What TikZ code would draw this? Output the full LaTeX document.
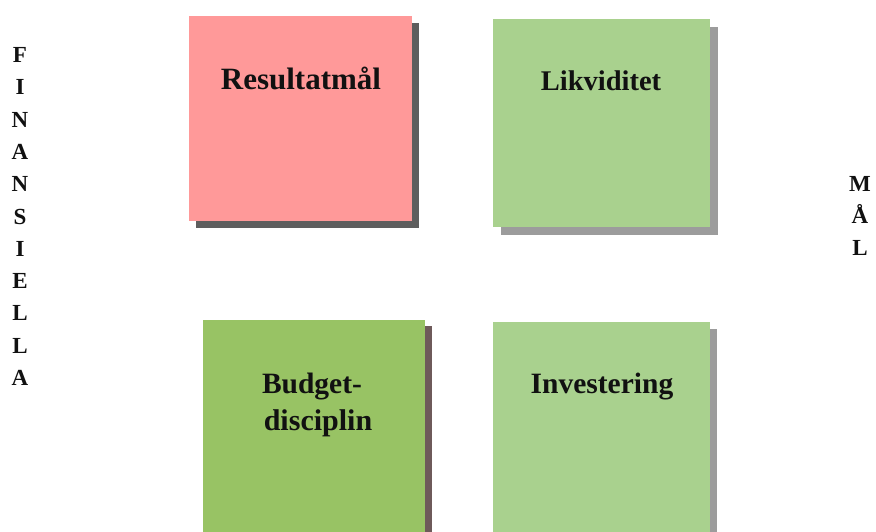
\documentclass[tikz,border=0pt]{standalone}
\usepackage{fontspec}
\setmainfont{Liberation Serif}
\usetikzlibrary{shadows}
\definecolor{pinkbox}{HTML}{FF9999}
\definecolor{lightgreen}{HTML}{A9D18E}
\definecolor{midgreen}{HTML}{98C364}
\definecolor{darkshadow}{HTML}{5E5E5E}
\definecolor{lightshadow}{HTML}{9C9C9C}
\definecolor{redshadow}{HTML}{6E5A5A}
\definecolor{txt}{HTML}{111111}
\tikzset{
  card/.style={rectangle, inner sep=0pt, anchor=north west, draw=none},
  cardtext/.style={anchor=base, font=\bfseries\fontsize{#1}{#1}\selectfont, text=txt, inner sep=0pt},
  sideword/.style={align=center, font=\bfseries\fontsize{23}{32.3}\selectfont, text=txt, inner sep=0pt}
}
\begin{document}
\begin{tikzpicture}[x=1pt,y=-1pt]
\useasboundingbox[fill=white] (0,0) rectangle (876,531);
% shadows
\fill[darkshadow] (196,23) rectangle (419,228);
\fill[lightshadow] (501,27) rectangle (718,235);
\fill[redshadow] (210,326) rectangle (432,540);
\fill[lightshadow] (500,329) rectangle (717,540);
% boxes
\node[card, fill=pinkbox, minimum width=223pt, minimum height=205pt] (res) at (189,16) {};
\node[card, fill=lightgreen, minimum width=217pt, minimum height=208pt] (lik) at (493,19) {};
\node[card, fill=midgreen, minimum width=222pt, minimum height=220pt] (bud) at (203,320) {};
\node[card, fill=lightgreen, minimum width=217pt, minimum height=218pt] (inv) at (493,322) {};
% texts
\node[cardtext=31] (tres) at (301,89) {Resultatmål};
\node[cardtext=28.5] (tlik) at (601,90) {Likviditet};
\node[cardtext=29.5] (tbud1) at (312,393) {Budget-};
\node[cardtext=30] (tbud2) at (318,430) {disciplin};
\node[cardtext=29.5] (tinv) at (602,393) {Investering};
% side words
\node[sideword] (fin) at (20,216.5) {F\\I\\N\\A\\N\\S\\I\\E\\L\\L\\A};
\node[sideword] (mal) at (860,216) {M\\Å\\L};
\end{tikzpicture}
\end{document}
